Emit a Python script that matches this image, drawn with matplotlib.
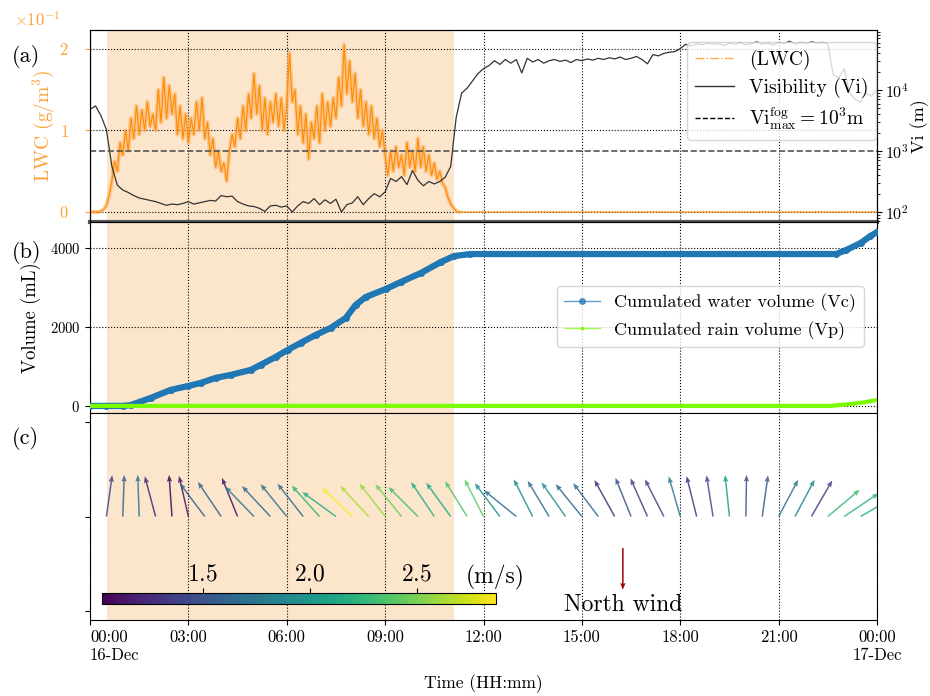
# -*- coding: utf-8 -*-
'''Brouillard du 16 décembre : LWC, visibilité, volumes cumulés et vent'''

import numpy as np
import matplotlib
matplotlib.use('Agg')
import matplotlib.pyplot as plt
from matplotlib.colors import Normalize
from matplotlib.lines import Line2D

plt.rcParams.update({
    'font.family': 'serif',
    'font.serif': ['cmr10'],
    'mathtext.fontset': 'cm',
    'axes.formatter.use_mathtext': True,
    'axes.unicode_minus': False,
})

# ==========
# = Données =
# ==========

# LWC, un point toutes les 5 min depuis 00:00 (unités de 1e-1 g/m3)
lwc = [0, 0, 0, 0, 0.01, 0.03, 0.08, 0.2, 0.38, 0.62, 0.5, 0.85,
       0.7, 1.0, 0.75, 1.15, 0.9, 1.3, 0.95, 1.25, 1.0, 1.35, 1.05, 1.2,
       1.0, 1.5, 1.1, 1.65, 1.15, 1.55, 1.2, 1.45, 0.95, 1.3, 0.9, 1.2,
       0.85, 1.15, 0.95, 1.35, 1.0, 1.4, 0.9, 1.1, 0.7, 0.9, 0.55, 0.75,
       0.5, 0.6, 0.38, 0.75, 0.95, 0.8, 1.15, 0.9, 1.3, 1.0, 1.45, 1.15,
       1.7, 1.2, 1.55, 1.0, 1.4, 0.95, 1.35, 1.1, 1.45, 1.05, 1.4, 1.0,
       1.3, 1.95, 1.35, 1.5, 0.95, 1.3, 0.85, 1.2, 0.65, 1.1, 0.9, 1.3,
       0.85, 1.45, 1.0, 1.35, 1.05, 1.4, 1.15, 1.65, 1.3, 2.05, 1.45, 1.85,
       1.35, 1.7, 1.15, 1.5, 1.05, 1.35, 0.95, 1.3, 0.9, 1.15, 0.8, 1.0,
       0.7, 0.45, 0.75, 0.5, 0.8, 0.55, 0.7, 0.45, 0.85, 0.55, 0.75, 0.5,
       0.9, 0.55, 0.8, 0.5, 0.7, 0.45, 0.6, 0.4, 0.5, 0.35, 0.3, 0.18,
       0.1, 0.05, 0.01, 0]

# log10 de la visibilité (m), un point toutes les 10 min
vi_log = [3.68, 3.74, 3.58, 3.35, 2.75, 2.44,
          2.36, 2.32, 2.27, 2.23, 2.21, 2.19,
          2.17, 2.14, 2.11, 2.13, 2.12, 2.14,
          2.17, 2.13, 2.15, 2.17, 2.19, 2.18,
          2.27, 2.25, 2.26, 2.17, 2.13, 2.10,
          2.09, 2.06, 2.01, 2.10, 2.11, 2.08,
          2.10, 2.00, 2.10, 2.17, 2.14, 2.22,
          2.12, 2.20, 2.14, 2.21, 2.00, 2.12,
          2.15, 2.25, 2.12, 2.22, 2.30, 2.25,
          2.33, 2.55, 2.50, 2.58, 2.45, 2.68,
          2.52, 2.43, 2.50, 2.46, 2.50, 2.57,
          2.75, 3.55, 3.95, 4.03, 4.15, 4.27,
          4.35, 4.40, 4.48, 4.42, 4.50, 4.44,
          4.50, 4.28, 4.52, 4.46, 4.50, 4.44,
          4.48, 4.50, 4.47, 4.49, 4.45, 4.50,
          4.48, 4.51, 4.49, 4.52, 4.50, 4.53,
          4.51, 4.54, 4.50, 4.52, 4.55, 4.50,
          4.43, 4.58, 4.56, 4.60, 4.62, 4.63,
          4.68, 4.75, 4.72, 4.76, 4.74, 4.77,
          4.75, 4.76, 4.73, 4.77, 4.75, 4.78,
          4.74, 4.76, 4.79, 4.75, 4.77, 4.74,
          4.78, 4.76, 4.80, 4.75, 4.78, 4.76,
          4.79, 4.77, 4.78, 4.76, 4.25, 4.20,
          4.35, 3.95, 3.85, 3.80, 3.95, 3.90,
          4.02]

VI_FOG = 1e3  # seuil de visibilité du brouillard (m)

# Volumes cumulés (mL)
vc_t = [0, 0.5, 1.0, 1.24, 1.85, 2.46, 3.0, 3.37, 3.83, 4.29, 4.9, 5.2,
        5.66, 6.03, 6.42, 6.88, 7.34, 7.8, 8.1, 8.41, 9.02, 9.48, 10.09,
        10.7, 11.1, 11.6, 22.75, 23.06, 23.5, 23.8, 24.0]
vc = [0, 0, 0, 20, 200, 405, 506, 580, 709, 785, 911, 1038,
      1240, 1418, 1595, 1797, 1975, 2228, 2557, 2759, 2962, 3139, 3367,
      3646, 3797, 3848, 3848, 3949, 4127, 4304, 4405]
vp_t = [0, 22.6, 23.2, 23.6, 24.0]
vp = [0, 0, 50, 90, 150]

# Vent, toutes les 30 min à partir de 00:30 : direction (°, d'où il vient) et vitesse (m/s)
vent_dir = [188, 182, 178, 165, 176, 167, 143, 146, 158, 136, 137, 141,
            142, 138, 126, 133, 137, 142, 141, 135, 146, 144, 148, 153,
            143, 129, 153, 149, 145, 141, 143, 151, 158, 156, 153, 164,
            166, 171, 174, 181, 188, 208, 208, 210, 230, 236, 240, 240]
vent_vit = [1.40, 1.58, 1.77, 1.21, 1.03, 1.12, 1.58, 1.58, 1.12, 1.77, 1.64, 1.71,
            1.67, 2.23, 2.17, 2.87, 2.65, 2.59, 2.47, 2.32, 2.17, 2.13, 2.35, 2.41,
            1.95, 1.67, 1.91, 1.67, 1.95, 1.64, 1.67, 1.25, 1.49, 1.36, 1.40, 1.77,
            1.31, 1.43, 2.04, 1.49, 1.55, 1.73, 1.86, 1.36, 2.28, 2.23, 2.17, 2.20]

# Période de brouillard (h)
BROUILLARD = (0.53, 11.1)

heures = [0, 3, 6, 9, 12, 15, 18, 21, 24]
etiquettes = ['00:00\n16-Dec', '03:00', '06:00', '09:00', '12:00',
              '15:00', '18:00', '21:00', '00:00\n17-Dec']

ORANGE = '#ff8c00'
ORANGE_TXT = '#ffa033'
OMBRE = '#fbe6cc'

# ============
# = Figure =
# ============

fig = plt.figure(figsize=(9.3, 6.96), dpi=100)
g, d = 90 / 930, 877 / 930
ax_a = fig.add_axes([g, 1 - 222 / 696, d - g, 192 / 696])
ax_b = fig.add_axes([g, 1 - 413 / 696, d - g, 191 / 696])
ax_c = fig.add_axes([g, 1 - 620 / 696, d - g, 207 / 696])

for ax in (ax_a, ax_b, ax_c):
    ax.axvspan(*BROUILLARD, color=OMBRE, lw=0, zorder=0)
    ax.set_xlim(0, 24)
    ax.set_xticks(heures)
    ax.tick_params(labelsize=12)
    ax.grid(axis='x', ls=':', color='k', lw=0.8)

# --- (a) LWC et visibilité ---
lwc_t = np.arange(len(lwc)) / 12
ax_a.plot(lwc_t, np.array(lwc) * 0.1, color='#ffad5c', lw=3, alpha=0.6, zorder=2)
ax_a.plot(np.append(lwc_t, 24), np.append(lwc, 0) * 0.1, color=ORANGE,
          lw=0.8, zorder=3)
ax_a.set_ylim(-0.0123, 0.2233)
ax_a.set_yticks([0, 0.1, 0.2])
ax_a.ticklabel_format(axis='y', style='sci', scilimits=(-1, -1))
ax_a.tick_params(axis='y', colors=ORANGE_TXT, labelsize=12, pad=12)
ax_a.set_ylabel('LWC (g/m$^3$)', color=ORANGE_TXT, fontsize=14, labelpad=2)
ax_a.grid(axis='y', ls=':', color='k', lw=0.8)
ax_a.tick_params(labelbottom=False)
ax_a.spines['bottom'].set_linewidth(3)
ax_a.spines['bottom'].set_color('#555555')

ax_r = ax_a.twinx()
vi_t = np.arange(len(vi_log)) / 6
ax_r.plot(vi_t, 10 ** np.array(vi_log), color='#333333', lw=0.9)
ax_r.axhline(VI_FOG, color='#555555', ls='--', lw=1.2)
ax_r.set_yscale('log')
ax_r.set_ylim(10 ** 1.836, 10 ** 4.984)
ax_r.set_ylabel('Vi (m)', fontsize=13, labelpad=1)
ax_r.tick_params(labelsize=11.5, pad=2)

# twinx remet le texte de décalage à gauche de l'axe : on le déplace après
ax_a.yaxis.offsetText.set_color(ORANGE_TXT)
ax_a.yaxis.offsetText.set_fontsize(12)
ax_a.yaxis.offsetText.set_x(-0.097)

poignees_a = [
    Line2D([], [], color=ORANGE, ls='-.', lw=1, alpha=0.7),
    Line2D([], [], color='#333333', lw=1),
    Line2D([], [], color='k', ls='--', lw=1),
]
ax_r.legend(poignees_a,
            ['(LWC)', 'Visibility (Vi)',
             r'$\mathrm{Vi}^{\mathrm{fog}}_{\mathrm{max}}=10^3\mathrm{m}$'],
            loc='upper left', bbox_to_anchor=(0.7585, 0.9375),
            borderaxespad=0, fontsize=14, labelspacing=0.4, framealpha=0.8)

# --- (b) Volumes cumulés ---
ax_b.plot(vc_t, vc, color='#1f77b4', lw=4.5, marker='o', ms=4, zorder=3)
ax_b.plot(vp_t, vp, color='#7cfc00', lw=3, zorder=4)
ax_b.set_ylim(-180, 4660)
ax_b.set_yticks([0, 2000, 4000])
ax_b.tick_params(axis='y', labelsize=10.5)
ax_b.set_ylabel('Volume (mL)', fontsize=13.5, labelpad=6)
ax_b.grid(axis='y', ls=':', color='k', lw=0.8)
ax_b.tick_params(labelbottom=False)
poignees_b = [
    Line2D([], [], color='#1f77b4', lw=1, marker='o', ms=4, alpha=0.7),
    Line2D([], [], color='#7cfc00', lw=1, marker='o', ms=2, alpha=0.7),
]
ax_b.legend(poignees_b, ['Cumulated water volume (Vc)',
                         'Cumulated rain volume (Vp)'],
            loc='upper left', bbox_to_anchor=(0.593, 0.665),
            borderaxespad=0, fontsize=13, framealpha=0.8)

# --- (c) Vent ---
vent_t = 0.5 * np.arange(1, len(vent_dir) + 1)
rad = np.radians(vent_dir)
u, v = -np.sin(rad), -np.cos(rad)
norme = Normalize(vmin=min(vent_vit), vmax=max(vent_vit))
q = ax_c.quiver(vent_t, np.zeros(len(vent_t)), u, v, vent_vit,
                cmap='viridis', norm=norme, pivot='tail', angles='uv',
                scale_units='inches', scale=1 / 0.417, width=0.0019,
                headwidth=3.5, headlength=4.5, headaxislength=4,
                alpha=0.85, zorder=3)
ax_c.quiver([16.25], [-0.335], [0], [-1], color='#a00000', pivot='tail',
            angles='uv', scale_units='inches', scale=1 / 0.417,
            width=0.0019, headwidth=3.5, headlength=4.5, headaxislength=4)
ax_c.text(16.25, -0.94, 'North wind', ha='center', va='center', fontsize=17)
ax_c.set_ylim(-1.1, 1.1)
ax_c.set_yticks([-1, 0, 1])
ax_c.set_yticklabels([])
ax_c.set_xticklabels(etiquettes)
ax_c.get_xticklabels()[0].set_ha('left')
ax_c.set_xlabel('Time (HH:mm)', fontsize=12.5, labelpad=8)

cax = ax_c.inset_axes([(102 - 90) / 787, (620 - 604) / 207,
                       (496 - 102) / 787, 11 / 207])
cb = fig.colorbar(q, cax=cax, orientation='horizontal')
cb.solids.set_alpha(1)
cax.xaxis.set_ticks_position('top')
cb.set_ticks([1.5, 2.0, 2.5])
cax.tick_params(labelsize=17, pad=2)
ax_c.text((466 - 90) / 787, (620 - 577) / 207, '(m/s)', transform=ax_c.transAxes,
          ha='left', va='center', fontsize=17)

# Étiquettes des panneaux
for lettre, y in (('(a)', 57), ('(b)', 253), ('(c)', 438)):
    fig.text(12 / 930, 1 - y / 696, lettre, fontsize=16, va='center')

fig.savefig('out.png', dpi=100)
